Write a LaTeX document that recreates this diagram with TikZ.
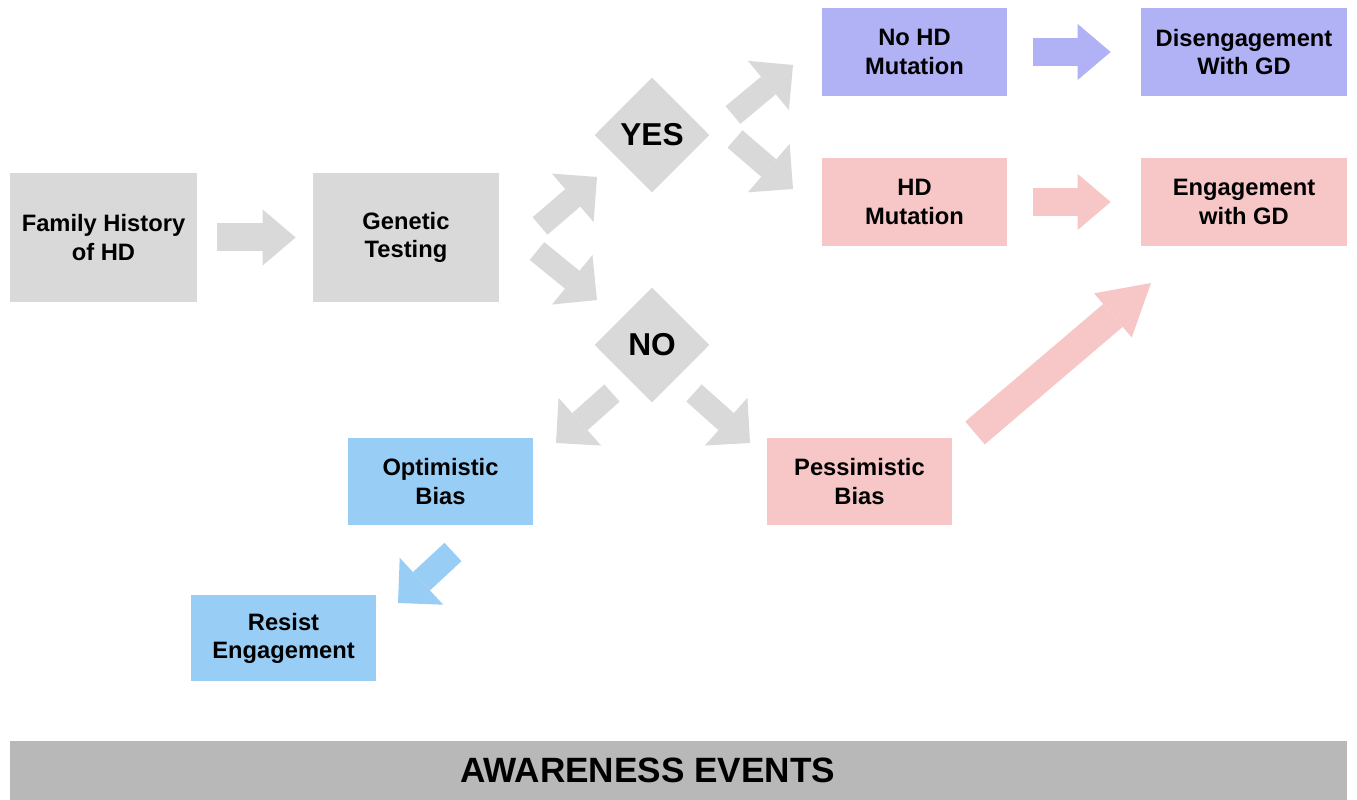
\documentclass[tikz,border=0pt]{standalone}
\usepackage{fontspec}
\setmainfont{Liberation Sans}
\usepackage{tikz}
\usetikzlibrary{arrows.meta, shapes.geometric}

\definecolor{boxgray}{RGB}{217,217,217}
\definecolor{bannergray}{RGB}{184,184,184}
\definecolor{lavender}{RGB}{177,177,246}
\definecolor{rose}{RGB}{247,198,198}
\definecolor{sky}{RGB}{152,205,245}

\begin{document}
\begin{tikzpicture}[
        stage/.style={fill=boxgray, minimum width=3.74cm, minimum height=2.58cm, align=center, inner sep=0pt, font=\fontsize{13.5}{16}\selectfont\bfseries},
        outcome/.style={minimum width=3.7cm, minimum height=1.76cm, align=center, inner sep=0pt, font=\fontsize{13.5}{16}\selectfont\bfseries},
        decision/.style={diamond, aspect=1, fill=boxgray, minimum width=2.3cm, minimum height=2.3cm, inner sep=0pt, font=\fontsize{18}{20}\selectfont\bfseries},
        bigflow/.style={-{Triangle[length=6.6mm, width=11.2mm, line width=0pt]}, line width=5.6mm, boxgray},
        diagflow/.style={-{Triangle[length=6.4mm, width=12.8mm, line width=0pt]}, line width=4.6mm, boxgray}
    ]
        \useasboundingbox (0,0) rectangle (27.14,16);

        \node[stage] (fam) at (2.07,11.25) {Family History\\of HD};
        \node[stage, minimum width=3.72cm] (gen) at (8.12,11.25) {Genetic\\Testing};

        \node[decision] (yes) at (13.04,13.3) {YES};
        \node[decision] (no) at (13.04,9.1) {NO};

        \node[outcome, fill=lavender] (nomut) at (18.29,14.96) {No HD\\Mutation};
        \node[outcome, fill=rose] (mut) at (18.29,11.96) {HD\\Mutation};
        \node[outcome, fill=lavender, minimum width=4.12cm] (diseng) at (24.88,14.96) {Disengagement\\With GD};
        \node[outcome, fill=rose, minimum width=4.12cm] (engage) at (24.88,11.96) {Engagement\\with GD};

        \node[outcome, fill=sky, minimum height=1.74cm] (optim) at (8.81,6.37) {Optimistic\\Bias};
        \node[outcome, fill=rose, minimum height=1.74cm] (pessim) at (17.19,6.37) {Pessimistic\\Bias};
        \node[outcome, fill=sky, minimum height=1.72cm] (resist) at (5.67,3.24) {Resist\\Engagement};

        \node[fill=bannergray, minimum width=26.74cm, minimum height=1.18cm, inner sep=0pt, font=\fontsize{20}{24}\selectfont\bfseries] (banner) at (13.57,0.59) {AWARENESS EVENTS\hspace*{1.24cm}};

        % free ends of the slanted arrows
        \coordinate (genyes-a) at (10.8,11.48);
        \coordinate (genyes-b) at (11.94,12.46);
        \coordinate (genno-a) at (10.74,10.98);
        \coordinate (genno-b) at (11.94,10.0);
        \coordinate (yesnomut-a) at (14.66,13.7);
        \coordinate (yesnomut-b) at (15.86,14.7);
        \coordinate (yesmut-a) at (14.7,13.22);
        \coordinate (yesmut-b) at (15.86,12.22);
        \coordinate (nooptim-a) at (12.24,8.14);
        \coordinate (nooptim-b) at (11.12,7.14);
        \coordinate (nopessim-a) at (13.88,8.14);
        \coordinate (nopessim-b) at (15.0,7.14);
        \coordinate (optimresist-a) at (9.06,4.96);
        \coordinate (optimresist-b) at (7.96,3.94);
        \coordinate (pessimeng-a) at (19.5,7.34);
        \coordinate (pessimeng-b) at (23.02,10.34);

        \draw[bigflow, shorten <=4mm, shorten >=3.4mm] (fam.east) -- (gen.west);
        \draw[bigflow, lavender, shorten <=5.2mm, shorten >=6mm] (nomut.east) -- (diseng.west);
        \draw[bigflow, rose, shorten <=5.2mm, shorten >=6mm] (mut.east) -- (engage.west);

        \draw[diagflow] (genyes-a) -- (genyes-b);
        \draw[diagflow] (genno-a) -- (genno-b);
        \draw[diagflow] (yesnomut-a) -- (yesnomut-b);
        \draw[diagflow] (yesmut-a) -- (yesmut-b);
        \draw[diagflow] (nooptim-a) -- (nooptim-b);
        \draw[diagflow] (nopessim-a) -- (nopessim-b);
        \draw[diagflow, sky, line width=5mm] (optimresist-a) -- (optimresist-b);
        \draw[-{Triangle[length=10mm, width=11.6mm, line width=0pt]}, line width=6mm, rose] (pessimeng-a) -- (pessimeng-b);
    \end{tikzpicture}
\end{document}
